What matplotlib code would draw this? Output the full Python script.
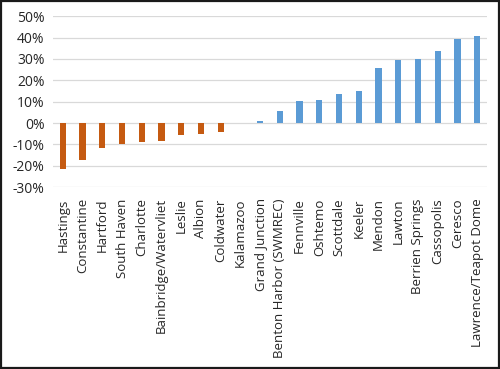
import matplotlib
matplotlib.use("Agg")
import matplotlib.pyplot as plt
from matplotlib.patches import Rectangle
from matplotlib.ticker import FuncFormatter

# data
sites = ["Hastings", "Constantine", "Hartford", "South Haven", "Charlotte",
         "Bainbridge/Watervliet", "Leslie", "Albion", "Coldwater", "Kalamazoo",
         "Grand Junction", "Benton Harbor (SWMREC)", "Fennville", "Oshtemo",
         "Scottdale", "Keeler", "Mendon", "Lawton", "Berrien Springs",
         "Cassopolis", "Ceresco", "Lawrence/Teapot Dome"]
change = [-21.7, -17.5, -11.6, -10.0, -8.8, -8.4, -5.6, -5.0, -4.0, 0.0,
          0.8, 5.6, 10.3, 11.0, 13.8, 15.0, 25.7, 29.4, 29.9, 33.8, 39.3, 40.7]

plt.rcParams['font.family'] = ['Open Sans', 'DejaVu Sans']

fig = plt.figure(figsize=(5.0, 3.69), dpi=100)
ax = fig.add_axes([0.106, 0.493, 0.868, 0.463])

colors = ['#C55A11' if v < 0 else '#5B9BD5' for v in change]
x = range(len(sites))
ax.bar(x, change, width=0.32, color=colors, zorder=3)

ax.set_ylim(-30, 50)
ax.set_yticks(range(-30, 51, 10))
ax.yaxis.set_major_formatter(FuncFormatter(lambda v, p: f"{int(v)}%"))
ax.set_xlim(-0.5, len(sites) - 0.5)
ax.set_xticks(list(x))
ax.set_xticklabels(sites, rotation=90, fontsize=9.5, color='#262626')
ax.tick_params(axis='y', labelsize=10, colors='#262626', length=0, pad=6)
ax.tick_params(axis='x', length=0, pad=8)
ax.grid(axis='y', color='#D9D9D9', linewidth=0.9, zorder=0)
for s in ax.spines.values():
    s.set_visible(False)

fig.patches.append(Rectangle((0.002, 0.003), 0.996, 0.994, transform=fig.transFigure,
                             fill=False, edgecolor='#1a1a1a', linewidth=1.6))

fig.savefig("out.png", dpi=100)
